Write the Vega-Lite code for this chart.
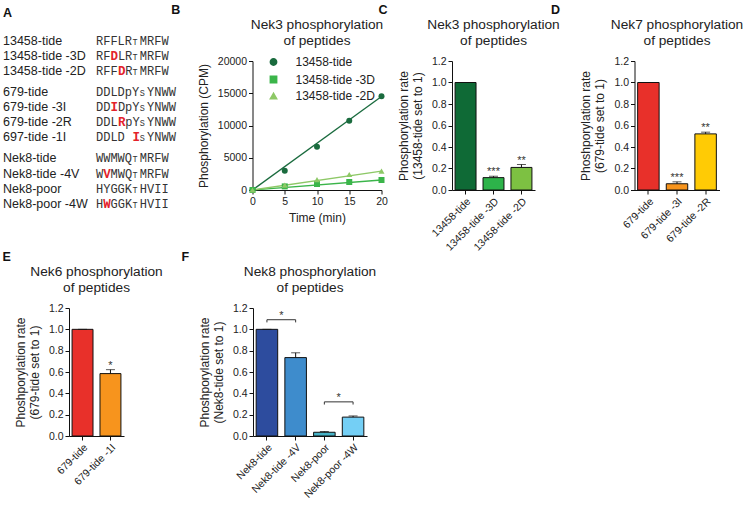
{
  "$schema": "https://vega.github.io/schema/vega-lite/v6.json",
  "background": "white",
  "padding": {"left": 2, "top": 3, "right": 2, "bottom": 2},
  "config": {
    "font": "Liberation Sans",
    "view": {"stroke": null},
    "axis": {"grid": false, "domainColor": "#111", "tickColor": "#111", "labelColor": "#222", "titleColor": "#222", "labelFontSize": 10.5, "titleFontSize": 12, "titleFontWeight": "normal", "tickSize": 4, "labelPadding": 2, "titlePadding": 6, "domainWidth": 1, "tickWidth": 1, "labelFont": "Liberation Sans", "titleFont": "Liberation Sans", "labelOverlap": false, "labelFlush": false},
    "title": {"fontSize": 13.7, "fontWeight": "normal", "color": "#222", "lineHeight": 16, "offset": 8, "font": "Liberation Sans"},
    "legend": {"labelFontSize": 12, "labelColor": "#222"}
  },
  "datasets": {
    "labels": [
      {"row": 0, "name": "13458-tide"},
      {"row": 1, "name": "13458-tide -3D"},
      {"row": 2, "name": "13458-tide -2D"},
      {"row": 3.4, "name": "679-tide"},
      {"row": 4.4, "name": "679-tide -3I"},
      {"row": 5.4, "name": "679-tide -2R"},
      {"row": 6.4, "name": "697-tide -1I"},
      {"row": 7.8, "name": "Nek8-tide"},
      {"row": 8.8, "name": "Nek8-tide -4V"},
      {"row": 9.8, "name": "Nek8-poor"},
      {"row": 10.8, "name": "Nek8-poor -4W"}
    ],
    "seqs": [
      {"row": 0, "col": 0, "seg": "RFFLR", "kind": "n"},
      {"row": 0, "col": 5, "seg": "T", "kind": "s"},
      {"row": 0, "col": 6, "seg": "MRFW", "kind": "n"},
      {"row": 1, "col": 0, "seg": "RF", "kind": "n"},
      {"row": 1, "col": 2, "seg": "D", "kind": "m"},
      {"row": 1, "col": 3, "seg": "LR", "kind": "n"},
      {"row": 1, "col": 5, "seg": "T", "kind": "s"},
      {"row": 1, "col": 6, "seg": "MRFW", "kind": "n"},
      {"row": 2, "col": 0, "seg": "RFF", "kind": "n"},
      {"row": 2, "col": 3, "seg": "D", "kind": "m"},
      {"row": 2, "col": 4, "seg": "R", "kind": "n"},
      {"row": 2, "col": 5, "seg": "T", "kind": "s"},
      {"row": 2, "col": 6, "seg": "MRFW", "kind": "n"},
      {"row": 3.4, "col": 0, "seg": "DDLDpY", "kind": "n"},
      {"row": 3.4, "col": 6, "seg": "S", "kind": "s"},
      {"row": 3.4, "col": 7, "seg": "YNWW", "kind": "n"},
      {"row": 4.4, "col": 0, "seg": "DD", "kind": "n"},
      {"row": 4.4, "col": 2, "seg": "I", "kind": "m"},
      {"row": 4.4, "col": 3, "seg": "DpY", "kind": "n"},
      {"row": 4.4, "col": 6, "seg": "S", "kind": "s"},
      {"row": 4.4, "col": 7, "seg": "YNWW", "kind": "n"},
      {"row": 5.4, "col": 0, "seg": "DDL", "kind": "n"},
      {"row": 5.4, "col": 3, "seg": "R", "kind": "m"},
      {"row": 5.4, "col": 4, "seg": "pY", "kind": "n"},
      {"row": 5.4, "col": 6, "seg": "S", "kind": "s"},
      {"row": 5.4, "col": 7, "seg": "YNWW", "kind": "n"},
      {"row": 6.4, "col": 0, "seg": "DDLD", "kind": "n"},
      {"row": 6.4, "col": 5, "seg": "I", "kind": "m"},
      {"row": 6.4, "col": 6, "seg": "S", "kind": "s"},
      {"row": 6.4, "col": 7, "seg": "YNWW", "kind": "n"},
      {"row": 7.8, "col": 0, "seg": "WWMWQ", "kind": "n"},
      {"row": 7.8, "col": 5, "seg": "T", "kind": "s"},
      {"row": 7.8, "col": 6, "seg": "MRFW", "kind": "n"},
      {"row": 8.8, "col": 0, "seg": "W", "kind": "n"},
      {"row": 8.8, "col": 1, "seg": "V", "kind": "m"},
      {"row": 8.8, "col": 2, "seg": "MWQ", "kind": "n"},
      {"row": 8.8, "col": 5, "seg": "T", "kind": "s"},
      {"row": 8.8, "col": 6, "seg": "MRFW", "kind": "n"},
      {"row": 9.8, "col": 0, "seg": "HYGGK", "kind": "n"},
      {"row": 9.8, "col": 5, "seg": "T", "kind": "s"},
      {"row": 9.8, "col": 6, "seg": "HVII", "kind": "n"},
      {"row": 10.8, "col": 0, "seg": "H", "kind": "n"},
      {"row": 10.8, "col": 1, "seg": "W", "kind": "m"},
      {"row": 10.8, "col": 2, "seg": "GGK", "kind": "n"},
      {"row": 10.8, "col": 5, "seg": "T", "kind": "s"},
      {"row": 10.8, "col": 6, "seg": "HVII", "kind": "n"}
    ],
    "nek3time": [
      {"peptide": "13458-tide", "time": 0, "cpm": 0},
      {"peptide": "13458-tide", "time": 5, "cpm": 2990},
      {"peptide": "13458-tide", "time": 10, "cpm": 6700},
      {"peptide": "13458-tide", "time": 15, "cpm": 10730},
      {"peptide": "13458-tide", "time": 20, "cpm": 14550},
      {"peptide": "13458-tide -3D", "time": 0, "cpm": 0},
      {"peptide": "13458-tide -3D", "time": 5, "cpm": 560},
      {"peptide": "13458-tide -3D", "time": 10, "cpm": 930},
      {"peptide": "13458-tide -3D", "time": 15, "cpm": 1240},
      {"peptide": "13458-tide -3D", "time": 20, "cpm": 1550},
      {"peptide": "13458-tide -2D", "time": 0, "cpm": 0},
      {"peptide": "13458-tide -2D", "time": 5, "cpm": 750},
      {"peptide": "13458-tide -2D", "time": 10, "cpm": 1600},
      {"peptide": "13458-tide -2D", "time": 15, "cpm": 2400},
      {"peptide": "13458-tide -2D", "time": 20, "cpm": 2940}
    ],
    "fits": [
      {"peptide": "13458-tide", "time": 0, "cpm": 0},
      {"peptide": "13458-tide", "time": 20, "cpm": 14500},
      {"peptide": "13458-tide -3D", "time": 0, "cpm": 0},
      {"peptide": "13458-tide -3D", "time": 20, "cpm": 1550},
      {"peptide": "13458-tide -2D", "time": 0, "cpm": 0},
      {"peptide": "13458-tide -2D", "time": 20, "cpm": 2940}
    ],
    "nek3rate": [
      {"peptide": "13458-tide", "rate": 1.0, "hi": 1.0, "sig": ""},
      {"peptide": "13458-tide -3D", "rate": 0.115, "hi": 0.128, "sig": "***"},
      {"peptide": "13458-tide -2D", "rate": 0.21, "hi": 0.237, "sig": "**"}
    ],
    "nek7rate": [
      {"peptide": "679-tide", "rate": 1.0, "hi": 1.0, "sig": ""},
      {"peptide": "679-tide -3I", "rate": 0.058, "hi": 0.076, "sig": "***"},
      {"peptide": "679-tide -2R", "rate": 0.522, "hi": 0.538, "sig": "**"}
    ],
    "nek6rate": [
      {"peptide": "679-tide", "rate": 1.0, "hi": 1.0, "sig": ""},
      {"peptide": "679-tide -1I", "rate": 0.585, "hi": 0.622, "sig": "*"}
    ],
    "nek8rate": [
      {"peptide": "Nek8-tide", "rate": 1.0, "hi": 1.0},
      {"peptide": "Nek8-tide -4V", "rate": 0.735, "hi": 0.78},
      {"peptide": "Nek8-poor", "rate": 0.035, "hi": 0.042},
      {"peptide": "Nek8-poor -4W", "rate": 0.177, "hi": 0.188}
    ],
    "nek8br": [
      {"a": "Nek8-tide", "b": "Nek8-tide -4V", "y": 1.09, "ytip": 1.065, "sig": "*"},
      {"a": "Nek8-poor", "b": "Nek8-poor -4W", "y": 0.32, "ytip": 0.295, "sig": "*"}
    ]
  },
  "spacing": -3,
  "resolve": {"scale": {"color": "independent", "shape": "independent"}, "legend": {"color": "independent", "shape": "independent"}},
  "vconcat": [
    {
      "hconcat": [
        {
          "title": {"text": "A", "anchor": "start", "frame": "bounds", "fontSize": 12.5, "fontWeight": "bold", "color": "#111", "offset": 2, "dy": -14},
          "vconcat": [
            {
              "width": 111, "height": 140,
              "layer": [
                {
                  "data": {"name": "labels"},
                  "mark": {"type": "text", "align": "left", "baseline": "middle", "fontSize": 12.5, "color": "#222", "font": "Liberation Sans"},
                  "encoding": {
                    "x": {"datum": -12.74, "type": "quantitative", "scale": {"domain": [-3.699, 11.507], "nice": false, "zero": false}, "axis": null},
                    "y": {"field": "row", "type": "quantitative", "scale": {"domain": [1.328, 10.625], "reverse": true, "nice": false, "zero": false}, "axis": null},
                    "text": {"field": "name"}
                  }
                },
                {
                  "data": {"name": "seqs"},
                  "transform": [{"filter": "datum.kind == 'n'"}],
                  "mark": {"type": "text", "align": "left", "baseline": "middle", "fontSize": 12, "color": "#333", "font": "Liberation Mono"},
                  "encoding": {
                    "x": {"field": "col", "type": "quantitative"},
                    "y": {"field": "row", "type": "quantitative"},
                    "text": {"field": "seg"}
                  }
                },
                {
                  "data": {"name": "seqs"},
                  "transform": [{"filter": "datum.kind == 's'"}],
                  "mark": {"type": "text", "align": "left", "baseline": "middle", "fontSize": 8.5, "dy": 1, "color": "#333", "font": "Liberation Mono"},
                  "encoding": {
                    "x": {"field": "col", "type": "quantitative"},
                    "y": {"field": "row", "type": "quantitative"},
                    "text": {"field": "seg"}
                  }
                },
                {
                  "data": {"name": "seqs"},
                  "transform": [{"filter": "datum.kind == 'm'"}],
                  "mark": {"type": "text", "align": "left", "baseline": "middle", "fontSize": 12.5, "fontWeight": "bold", "color": "#e3222a", "font": "Liberation Mono"},
                  "encoding": {
                    "x": {"field": "col", "type": "quantitative"},
                    "y": {"field": "row", "type": "quantitative"},
                    "text": {"field": "seg"}
                  }
                }
              ]
            }
          ]
        },
        {
          "title": {"text": "B", "anchor": "start", "frame": "bounds", "fontSize": 12.5, "fontWeight": "bold", "color": "#111", "offset": 2, "dx": -26},
          "resolve": {"scale": {"color": "independent", "shape": "independent"}, "legend": {"color": "independent", "shape": "independent"}},
          "vconcat": [
            {
              "width": 129, "height": 129,
              "title": {"text": ["Nek3 phosphorylation", "of peptides"], "anchor": "middle"},
              "layer": [
                {
                  "data": {"name": "fits"},
                  "mark": {"type": "line", "strokeWidth": 1.3},
                  "encoding": {
                    "x": {"field": "time", "type": "quantitative", "scale": {"domain": [0, 20], "nice": false}, "axis": {"values": [0, 5, 10, 15, 20], "tickCount": 10, "title": "Time (min)", "labelOverlap": false}},
                    "y": {"field": "cpm", "type": "quantitative", "scale": {"domain": [0, 20000], "nice": false}, "axis": {"values": [0, 5000, 10000, 15000, 20000], "tickCount": 10, "format": "d", "title": "Phosphorylation (CPM)", "titlePadding": 7, "labelOverlap": false}},
                    "color": {"field": "peptide", "type": "nominal", "scale": {"domain": ["13458-tide", "13458-tide -3D", "13458-tide -2D"], "range": ["#1a6b3e", "#3bb54a", "#8dc866"]}, "legend": {"title": null, "orient": "none", "legendX": 15, "legendY": -5, "labelFontSize": 12, "symbolSize": 40, "rowPadding": 3.5, "labelOffset": 16, "padding": 0}}
                  }
                },
                {
                  "data": {"name": "nek3time"},
                  "mark": {"type": "point", "filled": true, "size": 36, "opacity": 1},
                  "encoding": {
                    "x": {"field": "time", "type": "quantitative"},
                    "y": {"field": "cpm", "type": "quantitative"},
                    "color": {"field": "peptide", "type": "nominal", "scale": {"domain": ["13458-tide", "13458-tide -3D", "13458-tide -2D"], "range": ["#1a6b3e", "#3bb54a", "#8dc866"]}, "legend": {"title": null, "orient": "none", "legendX": 15, "legendY": -5, "labelFontSize": 12, "symbolSize": 40, "rowPadding": 3.5, "labelOffset": 16, "padding": 0}},
                    "shape": {"field": "peptide", "type": "nominal", "scale": {"domain": ["13458-tide", "13458-tide -3D", "13458-tide -2D"], "range": ["circle", "square", "triangle-up"]}, "legend": {"title": null, "orient": "none", "legendX": 15, "legendY": -5, "labelFontSize": 12, "symbolSize": 40, "rowPadding": 3.5, "labelOffset": 16, "padding": 0}}
                  }
                }
              ]
            }
          ]
        },
        {
          "title": {"text": "C", "anchor": "start", "frame": "bounds", "fontSize": 12.5, "fontWeight": "bold", "color": "#111", "offset": 2, "dx": -19},
          "vconcat": [
            {
              "width": 83, "height": 129,
              "title": {"text": ["Nek3 phosphorylation", "of peptides"], "anchor": "middle"},
              "data": {"name": "nek3rate"},
              "encoding": {
                "x": {"field": "peptide", "type": "nominal", "scale": {"domain": ["13458-tide", "13458-tide -3D", "13458-tide -2D"], "paddingInner": 0.25, "paddingOuter": 0.11}, "axis": {"title": null, "labelAngle": -45}}
              },
              "layer": [
                {
                  "mark": {"type": "bar", "stroke": "#111", "strokeWidth": 1},
                  "encoding": {
                    "y": {"field": "rate", "type": "quantitative", "scale": {"domain": [0, 1.2], "nice": false}, "axis": {"values": [0, 0.2, 0.4, 0.6, 0.8, 1, 1.2], "tickCount": 10, "format": ".1f", "title": ["Phosphorylation rate", "(13458-tide set to 1)"], "titlePadding": 7, "labelOverlap": false}},
                    "color": {"field": "peptide", "type": "nominal", "scale": {"domain": ["13458-tide", "13458-tide -3D", "13458-tide -2D"], "range": ["#0f6a36", "#2db34a", "#7dc142"]}, "legend": null}
                  }
                },
                {"mark": {"type": "rule", "color": "#111"}, "encoding": {"y": {"field": "rate", "type": "quantitative"}, "y2": {"field": "hi"}}},
                {"mark": {"type": "tick", "color": "#111", "size": 9, "thickness": 1}, "encoding": {"y": {"field": "hi", "type": "quantitative"}}},
                {"mark": {"type": "text", "fontSize": 11, "baseline": "middle", "dy": -4, "color": "#333"}, "encoding": {"y": {"field": "hi", "type": "quantitative"}, "text": {"field": "sig"}}}
              ]
            }
          ]
        },
        {
          "title": {"text": "D", "anchor": "start", "frame": "bounds", "fontSize": 12.5, "fontWeight": "bold", "color": "#111", "offset": 2, "dx": -29},
          "vconcat": [
            {
              "width": 85, "height": 129,
              "title": {"text": ["Nek7 phosphorylation", "of peptides"], "anchor": "middle"},
              "data": {"name": "nek7rate"},
              "encoding": {
                "x": {"field": "peptide", "type": "nominal", "scale": {"domain": ["679-tide", "679-tide -3I", "679-tide -2R"], "paddingInner": 0.25, "paddingOuter": 0.11}, "axis": {"title": null, "labelAngle": -45}}
              },
              "layer": [
                {
                  "mark": {"type": "bar", "stroke": "#111", "strokeWidth": 1},
                  "encoding": {
                    "y": {"field": "rate", "type": "quantitative", "scale": {"domain": [0, 1.2], "nice": false}, "axis": {"values": [0, 0.2, 0.4, 0.6, 0.8, 1, 1.2], "tickCount": 10, "format": ".1f", "title": ["Phoshporylation rate", "(679-tide set to 1)"], "titlePadding": 7, "labelOverlap": false}},
                    "color": {"field": "peptide", "type": "nominal", "scale": {"domain": ["679-tide", "679-tide -3I", "679-tide -2R"], "range": ["#e8302a", "#f7941d", "#ffcb05"]}, "legend": null}
                  }
                },
                {"mark": {"type": "rule", "color": "#111"}, "encoding": {"y": {"field": "rate", "type": "quantitative"}, "y2": {"field": "hi"}}},
                {"mark": {"type": "tick", "color": "#111", "size": 9, "thickness": 1}, "encoding": {"y": {"field": "hi", "type": "quantitative"}}},
                {"mark": {"type": "text", "fontSize": 11, "baseline": "middle", "dy": -4, "color": "#333"}, "encoding": {"y": {"field": "hi", "type": "quantitative"}, "text": {"field": "sig"}}}
              ]
            }
          ]
        }
      ],
      "spacing": -9.5,
      "align": "none",
      "resolve": {"scale": {"color": "independent", "shape": "independent"}, "legend": {"color": "independent", "shape": "independent"}}
    },
    {
      "hconcat": [
        {
          "title": {"text": "E", "anchor": "start", "frame": "bounds", "fontSize": 12.5, "fontWeight": "bold", "color": "#111", "offset": 2, "dx": -12},
          "vconcat": [
            {
              "width": 55, "height": 128,
              "title": {"text": ["Nek6 phosphorylation", "of peptides"], "anchor": "middle"},
              "data": {"name": "nek6rate"},
              "encoding": {
                "x": {"field": "peptide", "type": "nominal", "scale": {"domain": ["679-tide", "679-tide -1I"], "paddingInner": 0.25, "paddingOuter": 0.11}, "axis": {"title": null, "labelAngle": -45}}
              },
              "layer": [
                {
                  "mark": {"type": "bar", "stroke": "#111", "strokeWidth": 1},
                  "encoding": {
                    "y": {"field": "rate", "type": "quantitative", "scale": {"domain": [0, 1.2], "nice": false}, "axis": {"values": [0, 0.2, 0.4, 0.6, 0.8, 1, 1.2], "tickCount": 10, "format": ".1f", "title": ["Phoshporylation rate", "(679-tide set to 1)"], "titlePadding": 7, "labelOverlap": false}},
                    "color": {"field": "peptide", "type": "nominal", "scale": {"domain": ["679-tide", "679-tide -1I"], "range": ["#e8302a", "#f7941d"]}, "legend": null}
                  }
                },
                {"mark": {"type": "rule", "color": "#111"}, "encoding": {"y": {"field": "rate", "type": "quantitative"}, "y2": {"field": "hi"}}},
                {"mark": {"type": "tick", "color": "#111", "size": 9, "thickness": 1}, "encoding": {"y": {"field": "hi", "type": "quantitative"}}},
                {"mark": {"type": "text", "fontSize": 11, "baseline": "middle", "dy": -4, "color": "#333"}, "encoding": {"y": {"field": "hi", "type": "quantitative"}, "text": {"field": "sig"}}}
              ]
            }
          ]
        },
        {
          "title": {"text": "F", "anchor": "start", "frame": "bounds", "fontSize": 12.5, "fontWeight": "bold", "color": "#111", "offset": 2, "dx": -17},
          "vconcat": [
            {
              "width": 114, "height": 128,
              "title": {"text": ["Nek8 phosphorylation", "of peptides"], "anchor": "middle"},
              "layer": [
                {
                  "data": {"name": "nek8rate"},
                  "mark": {"type": "bar", "stroke": "#111", "strokeWidth": 1},
                  "encoding": {
                    "x": {"field": "peptide", "type": "nominal", "scale": {"domain": ["Nek8-tide", "Nek8-tide -4V", "Nek8-poor", "Nek8-poor -4W"], "paddingInner": 0.25, "paddingOuter": 0.11}, "axis": {"title": null, "labelAngle": -45}},
                    "y": {"field": "rate", "type": "quantitative", "scale": {"domain": [0, 1.2], "nice": false}, "axis": {"values": [0, 0.2, 0.4, 0.6, 0.8, 1, 1.2], "tickCount": 10, "format": ".1f", "title": ["Phoshporylation rate", "(Nek8-tide set to 1)"], "titlePadding": 7, "labelOverlap": false}},
                    "color": {"field": "peptide", "type": "nominal", "scale": {"domain": ["Nek8-tide", "Nek8-tide -4V", "Nek8-poor", "Nek8-poor -4W"], "range": ["#2d4c9e", "#3e8ccc", "#46b2c6", "#74cff5"]}, "legend": null}
                  }
                },
                {"data": {"name": "nek8rate"}, "mark": {"type": "rule", "color": "#111"}, "encoding": {"x": {"field": "peptide", "type": "nominal", "title": null}, "y": {"field": "rate", "type": "quantitative"}, "y2": {"field": "hi"}}},
                {"data": {"name": "nek8rate"}, "mark": {"type": "tick", "color": "#111", "size": 9, "thickness": 1}, "encoding": {"x": {"field": "peptide", "type": "nominal", "title": null}, "y": {"field": "hi", "type": "quantitative"}}},
                {"data": {"name": "nek8br"}, "mark": {"type": "rule", "color": "#333"}, "encoding": {"x": {"field": "a", "type": "nominal", "title": null}, "x2": {"field": "b"}, "y": {"field": "y", "type": "quantitative"}}},
                {"data": {"name": "nek8br"}, "mark": {"type": "rule", "color": "#333"}, "encoding": {"x": {"field": "a", "type": "nominal", "title": null}, "y": {"field": "ytip", "type": "quantitative"}, "y2": {"field": "y"}}},
                {"data": {"name": "nek8br"}, "mark": {"type": "rule", "color": "#333"}, "encoding": {"x": {"field": "b", "type": "nominal", "title": null}, "y": {"field": "ytip", "type": "quantitative"}, "y2": {"field": "y"}}},
                {"data": {"name": "nek8br"}, "mark": {"type": "text", "fontSize": 11, "baseline": "middle", "dy": -4, "color": "#333"}, "encoding": {"x": {"field": "a", "type": "nominal", "title": null, "bandPosition": 1.1667}, "y": {"field": "y", "type": "quantitative"}, "text": {"field": "sig"}}}
              ]
            }
          ]
        }
      ],
      "spacing": 18,
      "align": "none",
      "resolve": {"scale": {"color": "independent"}}
    }
  ]
}
